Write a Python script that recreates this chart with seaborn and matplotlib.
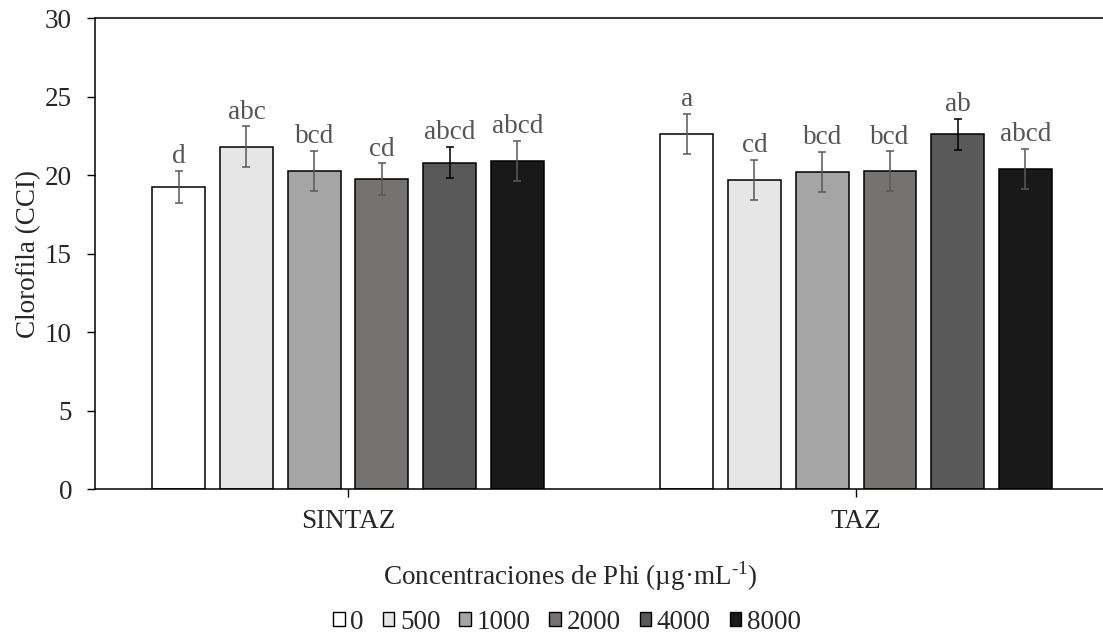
import pandas as pd
import seaborn as sns
import matplotlib.pyplot as plt
from matplotlib.patches import Patch

# data
groups = ["SINTAZ", "TAZ"]
levels = ["0", "500", "1000", "2000", "4000", "8000"]
sintaz_mean = [19.25, 21.8, 20.27, 19.75, 20.78, 20.9]
sintaz_err = [1.0, 1.3, 1.27, 1.0, 1.0, 1.27]
taz_mean = [22.63, 19.68, 20.19, 20.24, 22.6, 20.4]
taz_err = [1.28, 1.28, 1.28, 1.28, 1.0, 1.27]
sintaz_letters = ["d", "abc", "bcd", "cd", "abcd", "abcd"]
taz_letters = ["a", "cd", "bcd", "bcd", "ab", "abcd"]

colors = ["#ffffff", "#e6e6e6", "#a5a5a5", "#767171", "#595959", "#191919"]
err_colors = ["#595959", "#595959", "#595959", "#595959", "#000000", "#595959"]

df = pd.DataFrame({
    "grupo": ["SINTAZ"] * 6 + ["TAZ"] * 6,
    "conc": levels * 2,
    "cci": sintaz_mean + taz_mean,
    "err": sintaz_err + taz_err,
    "letra": sintaz_letters + taz_letters,
})

sns.set_style("white")
plt.rcParams["font.family"] = ["Liberation Serif", "DejaVu Serif"]
plt.rcParams["mathtext.fontset"] = "custom"
plt.rcParams["mathtext.rm"] = "Liberation Serif"
fs = 19.5

fig = plt.figure(figsize=(11.03, 6.37), dpi=100)
ax = fig.add_axes([0.0861, 0.2323, 0.9139, 0.7394])

sns.barplot(data=df, x="grupo", y="cci", hue="conc", order=groups,
            hue_order=levels, palette=colors, edgecolor="black",
            linewidth=1.1, errorbar=None, gap=0.22, legend=False, ax=ax)

# error bars and significance letters on top of each bar
bar_conts = list(ax.containers)
for i, cont in enumerate(bar_conts):
    sub = df[df["conc"] == levels[i]].set_index("grupo").loc[groups]
    for bar, (_, row) in zip(cont, sub.iterrows()):
        xc = bar.get_x() + bar.get_width() / 2
        ax.errorbar(xc, row["cci"], yerr=row["err"], color=err_colors[i],
                    capsize=3.2, elinewidth=1.1, capthick=1.1, fmt="none")
        ax.annotate(row["letra"], (xc, row["cci"] + row["err"]),
                    xytext=(0, 5.5), textcoords="offset points",
                    ha="center", va="baseline", fontsize=fs, color="#555555")

ax.set_ylim(0, 30)
ax.set_yticks([0, 5, 10, 15, 20, 25, 30])
ax.set_xlim(-0.498, 1.486)
ax.set_ylabel("Clorofila (CCI)", fontsize=fs, labelpad=3)
ax.set_xlabel("Concentraciones de Phi (µg·mL$^{\\mathregular{\u20101}}$)",
              fontsize=fs, labelpad=18)
ax.xaxis.label.set_x(0.471)  # label sits centred under the whole figure
ax.tick_params(axis="both", labelsize=fs, direction="out", length=5.5,
               width=1.0, color="black", left=True, bottom=True)
ax.tick_params(axis="x", pad=9)
ax.tick_params(axis="y", pad=11)
ax.spines["right"].set_visible(False)
for s in ["left", "bottom", "top"]:
    ax.spines[s].set_color("black")
    ax.spines[s].set_linewidth(1.1)

handles = [Patch(facecolor=c, edgecolor="black", linewidth=1.0) for c in colors]
fig.legend(handles, levels, loc="center", bbox_to_anchor=(0.514, 0.023),
           ncol=6, frameon=False, fontsize=fs, handlelength=0.43,
           handleheight=0.43, handletextpad=0.2, columnspacing=0.7)

plt.savefig("out.png", dpi=100)
